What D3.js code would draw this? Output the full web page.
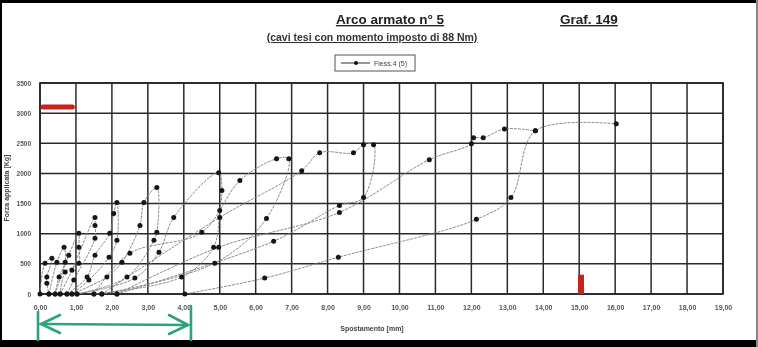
<!DOCTYPE html>
<html>
<head>
<meta charset="utf-8">
<script src="https://cdn.jsdelivr.net/npm/d3@7"></script>
<style>
  body { margin: 0; background: #fff; }
  svg { display: block; }
  text { font-family: "Liberation Sans", Arial, sans-serif; }
</style>
</head>
<body>
<div id="chart"></div>
<script>
// cicli carico / scarico  [spostamento mm, forza Kg]
const ciclo1 = [[0,0],[0.14,512],[0.33,594],[0.19,280],[0.19,180],[0.25,0]];
const ciclo2 = [[0.25,0],[0.47,528],[0.67,775],[0.70,528],[0.53,280],[0.42,0]];
const ciclo3 = [[0.42,0],[0.80,643],[1.08,1006],[1.08,775],[1.08,512],[0.70,363],[0.56,0]];
const ciclo4 = [[0.56,0],[0.89,396],[1.53,1270],[1.53,1138],[1.53,924],[0.94,231],[0.75,0]];
const ciclo5 = [[0.75,0],[1.31,280],[1.53,643],[1.94,1006],[2.05,1336],[2.14,1518],[2.14,891],[1.92,610],[1.36,231],[0.89,0]];
const ciclo6 = [[0.89,0],[1.86,280],[2.28,528],[2.78,1138],[2.89,1518],[3.25,1766],[3.25,1023],[3.17,891],[2.42,280],[1.03,0]];
const ciclo7 = [[1.03,0],[2.64,264],[3.31,693],[3.72,1270],[4.97,2013],[5.06,1716],[5.0,1386],[4.83,775],[3.94,280],[1.5,0]];
const ciclo8 = [[1.5,0],[2.5,676],[4.5,1023],[5.56,1881],[6.58,2244],[6.92,2244],[6.3,1254],[4.86,512],[1.72,0]];
const ciclo9 = [[1.72,0],[5.0,1270],[7.28,2046],[7.78,2343],[8.72,2343],[9.0,2475],[9.28,2475],[9.0,1600],[8.33,1468],[6.5,875],[2.14,0]];
const ciclo10 = [[2.14,0],[4.97,775],[8.33,1353],[10.83,2227],[12.0,2491],[12.06,2590],[12.33,2590],[12.92,2739],[13.78,2706]];
const ciclo11 = [[4.03,0],[6.25,264],[8.3,610],[12.14,1238],[13.1,1600],[13.78,2706],[16.03,2822]];

const xTicks = [0,1,2,3,4,5,6,7,8,9,10,11,12,13,14,15,16,17,18,19];
const yTicks = [0,500,1000,1500,2000,2500,3000,3500];

// segni a mano sulla copia (rosso e verde)
const segnoRossoH = [[0.08,3100],[0.9,3100]];
const segnoRossoV = [[15.05,0],[15.05,320]];
const frecciaVerde = [0,4.2];

const W = 758, H = 347;
const x = d3.scaleLinear().domain([0,19]).range([40,723]);
const y = d3.scaleLinear().domain([0,3500]).range([294,83]);

const svg = d3.select("#chart").append("svg")
    .attr("width",W).attr("height",H);

const defs = svg.append("defs");
defs.append("filter").attr("id","scan")
    .append("feGaussianBlur").attr("stdDeviation",0.45);

const root = svg.append("g").attr("filter","url(#scan)");

// cornice nera della scansione
root.append("rect").attr("x",0).attr("y",0).attr("width",W).attr("height",3).attr("fill","#000");
root.append("rect").attr("x",0).attr("y",0).attr("width",2).attr("height",H).attr("fill","#000");
root.append("rect").attr("x",0).attr("y",340).attr("width",W).attr("height",7).attr("fill","#000");
root.append("rect").attr("x",756).attr("y",0).attr("width",2).attr("height",H).attr("fill","#888");

// griglia
const grid = root.append("g").attr("stroke","#2a2a2a").attr("stroke-width",1.5);
grid.selectAll("line.v").data(xTicks).join("line").attr("class","v")
    .attr("x1",d=>x(d)).attr("x2",d=>x(d)).attr("y1",y(3500)).attr("y2",y(0));
grid.selectAll("line.h").data(yTicks).join("line").attr("class","h")
    .attr("x1",x(0)).attr("x2",x(19)).attr("y1",d=>y(d)).attr("y2",d=>y(d));
root.append("rect").attr("x",x(0)).attr("y",y(3500))
    .attr("width",x(19)-x(0)).attr("height",y(0)-y(3500))
    .attr("fill","none").attr("stroke","#222").attr("stroke-width",1.6);

// assi
const xAxis = d3.axisBottom(x).tickValues(xTicks).tickSize(0)
    .tickFormat(d => d3.format(".2f")(d).replace(".",","));
const gx = root.append("g").attr("transform",`translate(0,${y(0)+8})`).call(xAxis);
gx.select(".domain").remove();
gx.selectAll("text").attr("font-size",7).attr("font-weight","bold").attr("fill","#555");

const yAxis = d3.axisLeft(y).tickValues(yTicks).tickSize(0).tickFormat(d3.format("d"));
const gy = root.append("g").attr("transform",`translate(${x(0)-6},0)`).call(yAxis);
gy.select(".domain").remove();
gy.selectAll("text").attr("font-size",6.5).attr("font-weight","bold").attr("fill","#555");

// serie
const cicli = [ciclo1,ciclo2,ciclo3,ciclo4,ciclo5,ciclo6,ciclo7,ciclo8,ciclo9,ciclo10,ciclo11];
const line = d3.line().x(d=>x(d[0])).y(d=>y(d[1])).curve(d3.curveCatmullRom.alpha(0.5));
const plot = root.append("g");
cicli.forEach(c => {
    plot.append("path").attr("d",line(c))
        .attr("fill","none").attr("stroke","#808080").attr("stroke-width",0.9)
        .attr("stroke-dasharray","3,1");
});
const punti = cicli.flat();
plot.selectAll("circle").data(punti).join("circle")
    .attr("cx",d=>x(d[0])).attr("cy",d=>y(d[1])).attr("r",2.5)
    .attr("fill","#151515");

// segni rossi
const lineaDritta = d3.line().x(d=>x(d[0])).y(d=>y(d[1]));
root.append("path").attr("d",lineaDritta(segnoRossoH))
    .attr("stroke","#c8201c").attr("stroke-width",5).attr("stroke-linecap","round");
root.append("path").attr("d",lineaDritta(segnoRossoV))
    .attr("stroke","#c8201c").attr("stroke-width",6);

// freccia verde
const verde = "#2fa27c";
const fv = root.append("g").attr("stroke",verde).attr("stroke-width",2.6).attr("fill","none")
    .attr("stroke-linecap","round");
const yF = 324;
fv.append("line").attr("x1",x(frecciaVerde[0])-2).attr("x2",x(frecciaVerde[0])-2).attr("y1",312).attr("y2",340);
fv.append("line").attr("x1",x(frecciaVerde[1])).attr("x2",x(frecciaVerde[1])).attr("y1",306).attr("y2",340);
fv.append("line").attr("x1",x(frecciaVerde[0])+1).attr("x2",x(frecciaVerde[1])-3).attr("y1",yF).attr("y2",yF+1);
fv.append("polyline").attr("points",`${x(0)+20},${yF-9} ${x(0)+1},${yF} ${x(0)+20},${yF+9}`);
fv.append("polyline").attr("points",`${x(4.2)-22},${yF-9} ${x(4.2)-3},${yF+1} ${x(4.2)-22},${yF+10}`);

// titoli
root.append("text").attr("x",390).attr("y",24).attr("text-anchor","middle")
    .attr("font-size",13.5).attr("font-weight","bold").attr("text-decoration","underline")
    .attr("fill","#222").text("Arco armato n° 5");
root.append("text").attr("x",589).attr("y",24).attr("text-anchor","middle")
    .attr("font-size",13.5).attr("font-weight","bold").attr("text-decoration","underline")
    .attr("fill","#222").text("Graf. 149");
root.append("text").attr("x",372).attr("y",41).attr("text-anchor","middle")
    .attr("font-size",10.5).attr("font-weight","bold").attr("text-decoration","underline")
    .attr("fill","#333").text("(cavi tesi con momento imposto di 88 Nm)");

// legenda
const leg = root.append("g");
leg.append("rect").attr("x",335).attr("y",55).attr("width",80).attr("height",16)
    .attr("fill","#fff").attr("stroke","#555").attr("stroke-width",1);
leg.append("line").attr("x1",341).attr("x2",370).attr("y1",63).attr("y2",63)
    .attr("stroke","#333").attr("stroke-width",1);
leg.append("circle").attr("cx",356).attr("cy",63).attr("r",2).attr("fill","#111");
leg.append("text").attr("x",374).attr("y",66).attr("font-size",7)
    .attr("fill","#444").text("Fless.4 (5)");

// titoli assi
root.append("text").attr("transform","translate(9,188) rotate(-90)")
    .attr("text-anchor","middle").attr("font-size",7).attr("font-weight","bold")
    .attr("fill","#444").text("Forza applicata [Kg]");
root.append("text").attr("x",372).attr("y",331).attr("text-anchor","middle")
    .attr("font-size",7).attr("font-weight","bold").attr("fill","#444")
    .text("Spostamento [mm]");
</script>
</body>
</html>
